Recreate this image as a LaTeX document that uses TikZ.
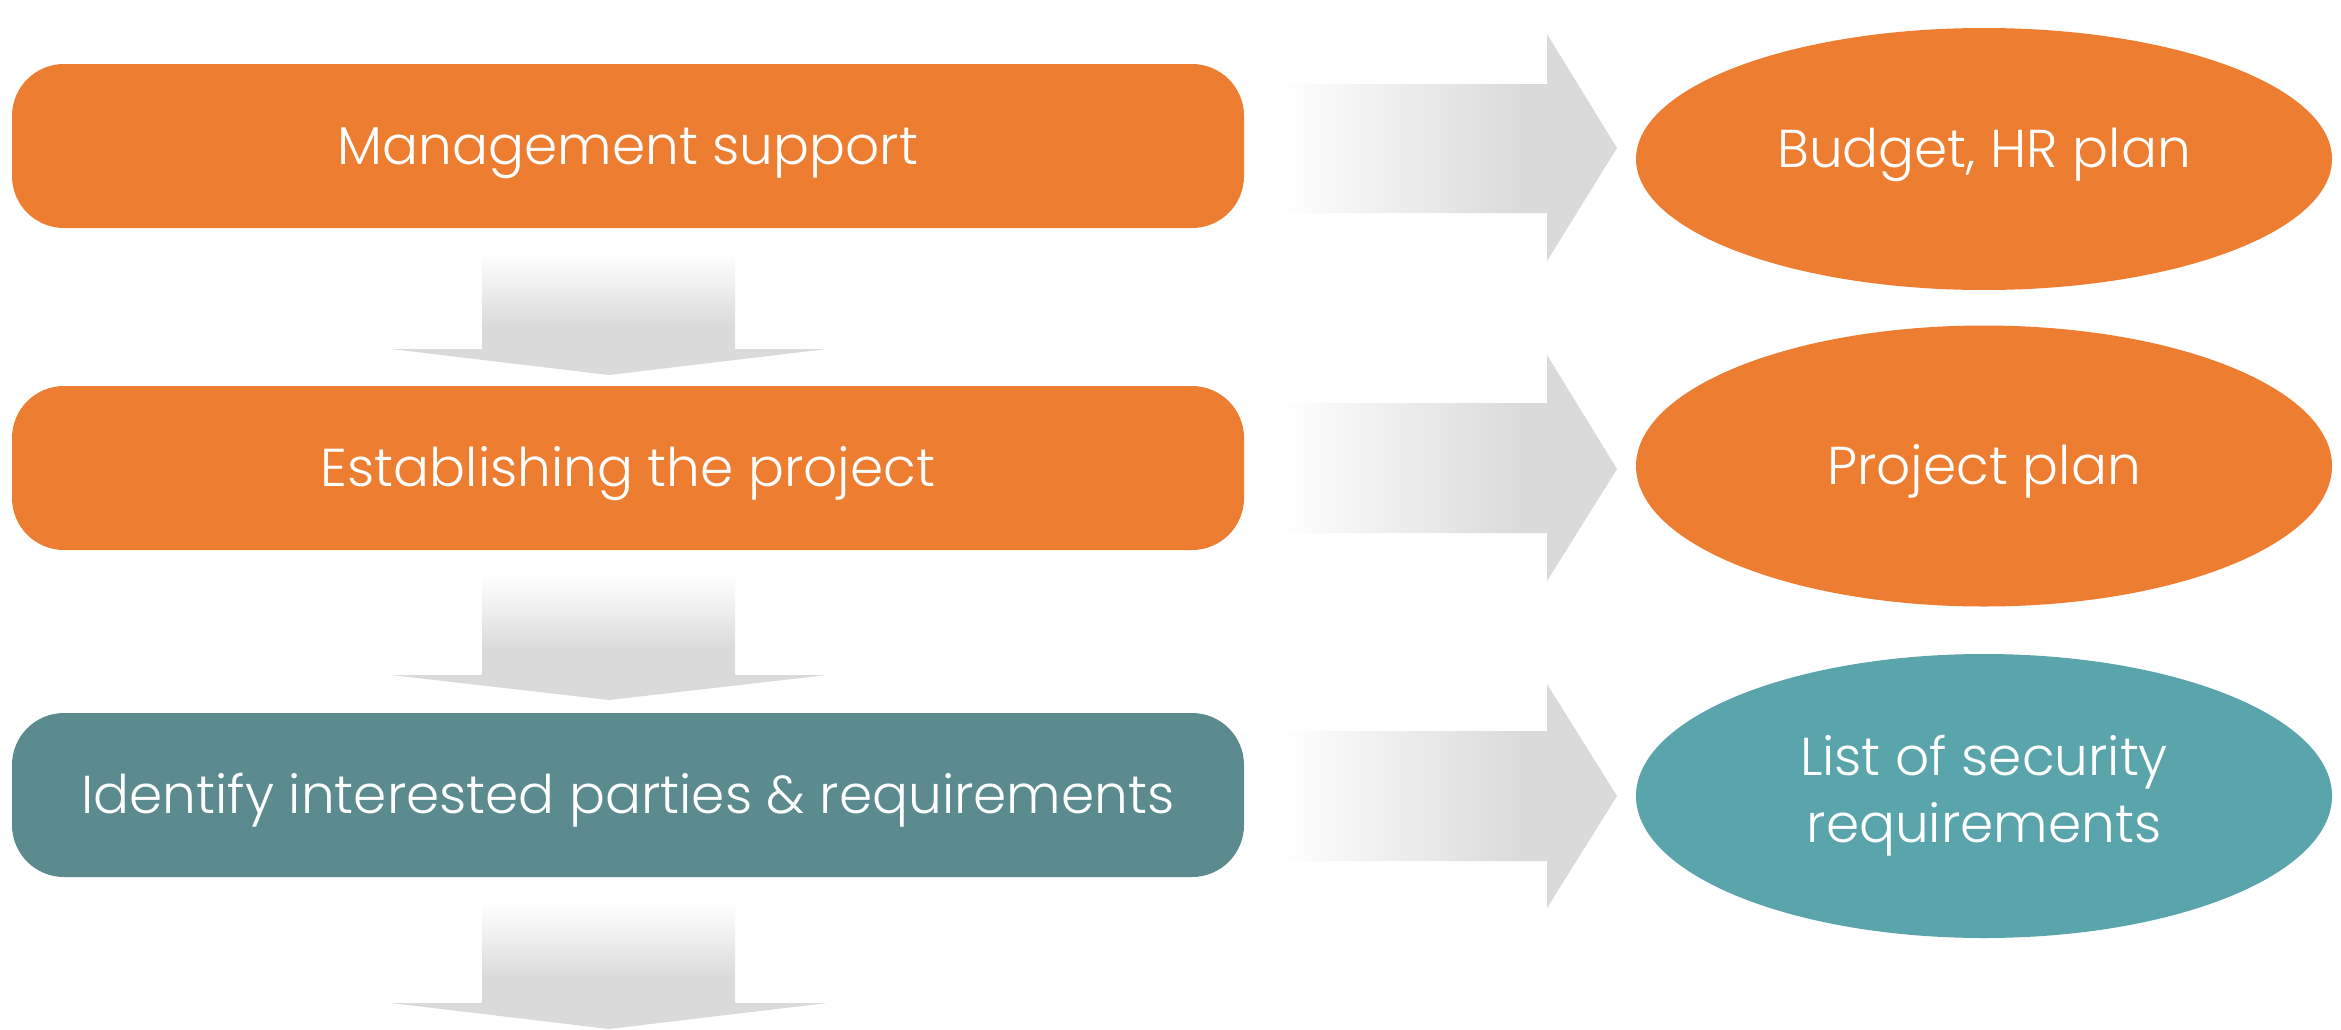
\documentclass[tikz,border=0pt]{standalone}
\usepackage{fontspec}
\setmainfont{Poppins}[UprightFont=* Light]
\usetikzlibrary{shapes.geometric}
\definecolor{planorange}{HTML}{ED7D31}
\definecolor{stepteal}{HTML}{5B8A8F}
\definecolor{outteal}{HTML}{5AA5AB}
\definecolor{arrowgray}{HTML}{DADADA}
\pgfdeclarehorizontalshading{faderight}{100bp}{color(0bp)=(white); color(25bp)=(white); color(61bp)=(arrowgray); color(100bp)=(arrowgray)}
\pgfdeclareverticalshading{fadedown}{100bp}{color(0bp)=(arrowgray); color(45bp)=(arrowgray); color(75bp)=(white); color(100bp)=(white)}
\tikzset{
  stepbox/.style={rectangle,rounded corners=15.6pt,minimum width=369.6pt,minimum height=49.2pt,inner sep=0pt,text=white,text height=11.2pt,text depth=0pt,font=\fontsize{16}{20}\selectfont},
  outbox/.style={ellipse,minimum width=208.8pt,inner sep=0pt,text=white,align=center,font=\fontsize{16}{20}\selectfont},
  downarrow/.style={shading=fadedown},
  rightarrow/.style={shading=faderight}
}
\begin{document}
\begin{tikzpicture}[x=0.3pt,y=-0.3pt]
\useasboundingbox (0,0) rectangle (2341,1029);
% steps
\node [stepbox,fill=planorange,name=support] at (628,146) {Management support};
\node [stepbox,fill=planorange,name=project] at (628,468) {Establishing the project};
\node [stepbox,fill=stepteal,name=parties] at (628,795) {Identify interested parties \& requirements};
% outputs
\node [outbox,fill=planorange,minimum height=78.6pt,text height=11.2pt,text depth=6pt,name=budget] at (1984,159) {Budget, HR plan};
\node [outbox,fill=planorange,minimum height=84.3pt,text height=11.2pt,text depth=0pt,name=plan] at (1984,466) {Project plan};
\node [outbox,fill=outteal,minimum height=85.2pt,name=secreq] at (1984,796) {List of security\\requirements};
% down arrows
\path [downarrow] (482,254)--(735,254)--(735,349)--(827,349)--(609,375)--(391,349)--(482,349)--cycle;
\path [downarrow] (482,575)--(735,575)--(735,675)--(827,675)--(609,700)--(391,675)--(482,675)--cycle;
\path [downarrow] (482,903)--(735,903)--(735,1003)--(827,1003)--(609,1029)--(391,1003)--(482,1003)--cycle;
% right arrows
\path [rightarrow] (1283,84)--(1547,84)--(1547,34)--(1617,148)--(1547,261)--(1547,213)--(1283,213)--cycle;
\path [rightarrow] (1283,403)--(1547,403)--(1547,355)--(1617,469)--(1547,581)--(1547,533)--(1283,533)--cycle;
\path [rightarrow] (1283,731)--(1547,731)--(1547,684)--(1617,796)--(1547,908)--(1547,861)--(1283,861)--cycle;
\end{tikzpicture}
\end{document}
